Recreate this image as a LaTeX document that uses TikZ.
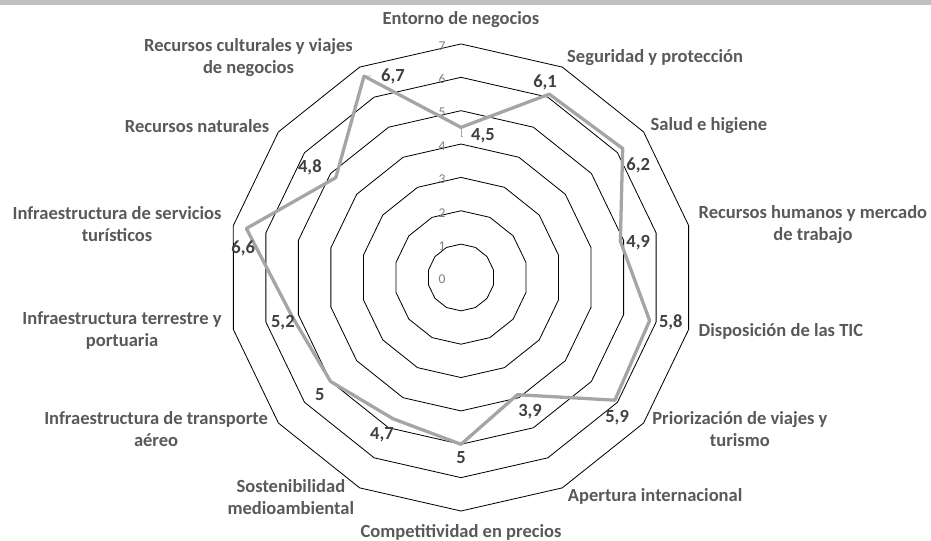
\documentclass[tikz,border=0pt]{standalone}
\usepackage{fontspec}
\setmainfont{Carlito}
\definecolor{catgray}{HTML}{595959}
\definecolor{valgray}{HTML}{404040}
\definecolor{datagray}{HTML}{A5A5A5}
\definecolor{tickgray}{HTML}{7F7F7F}
\definecolor{bandgray}{HTML}{C0C0C0}
\begin{document}
\begin{tikzpicture}[
  cat/.style={text=catgray,font=\bfseries\fontsize{15.8}{18.7}\selectfont,align=center,inner sep=0pt},
  val/.style={text=valgray,font=\bfseries\fontsize{15.8}{18.7}\selectfont,inner sep=0pt},
  tick/.style={text=tickgray,font=\fontsize{11.5}{13}\selectfont,inner sep=0pt},
  leader/.style={datagray,line width=0.6pt}]

\useasboundingbox (-13.819,-7.899) rectangle (14.089,8.318);
%top band
\fill[bandgray] (-13.819,8.168) rectangle (14.089,8.318);

%GRID
% rings 1..7
\foreach \r in {1,...,7}
  \draw[line width=0.7pt] (90:\r) \foreach \k in {1,...,13}{ -- ({90-\k*360/14}:\r) } -- cycle;
% scale numbers
\foreach \r in {0,...,7}
  \node[tick] (t\r) at (-0.57,\r-0.06) {\r};

%DATA
\foreach \v [count=\i from 0] in {4.5,6.1,6.2,4.9,5.8,5.9,3.9,5,4.7,5,5.2,6.6,4.8,6.7}
  \coordinate (p\i) at ({90-\i*360/14}:\v);
\draw[datagray,line width=2.8pt,line join=round] (p0) -- (p1) -- (p2) -- (p3) -- (p4) -- (p5) -- (p6)
  -- (p7) -- (p8) -- (p9) -- (p10) -- (p11) -- (p12) -- (p13) -- cycle;

%VALUES
\node[val] (v0) at (0.66,4.24) {4,5};
\node[val] (v1) at (2.52,5.86) {6,1};
\node[val] (v2) at (5.31,3.37) {6,2};
\node[val] (v3) at (5.31,1.03) {4,9};
\node[val] (v4) at (6.29,-1.36) {5,8};
\node[val] (v5) at (4.68,-4.21) {5,9};
\node[val] (v6) at (2.07,-4.03) {3,9};
\node[val] (v7) at (0,-5.41) {5};
\node[val] (v8) at (-2.37,-4.72) {4,7};
\node[val] (v9) at (-4.23,-3.52) {5};
\node[val] (v10) at (-5.34,-1.36) {5,2};
\node[val] (v11) at (-6.53,0.88) {6,6};
\node[val] (v12) at (-4.53,3.31) {4,8};
\node[val] (v13) at (-2.04,6.04) {6,7};
% leader lines
\draw[leader] (p0) |- ([xshift=-0.25cm]v0.west);
\draw[leader] (p13) -- ([xshift=-0.3cm]v13.west);

%LABELS
\node[cat] (c0) at (0,7.72) {Entorno de negocios};
\node[cat] (c1) at (5.82,6.58) {Seguridad y protección};
\node[cat] (c2) at (7.43,4.54) {Salud e higiene};
\node[cat] (c3) at (10.55,1.60) {Recursos humanos y mercado\\de trabajo};
\node[cat] (c4) at (9.59,-1.63) {Disposición de las TIC};
\node[cat] (c5) at (8.36,-4.54) {Priorización de viajes y\\turismo};
\node[cat] (c6) at (5.82,-6.55) {Apertura internacional};
\node[cat] (c7) at (0,-7.64) {Competitividad en precios};
\node[cat] (c8) at (-5.10,-6.58) {Sostenibilidad\\medioambiental};
\node[cat] (c9) at (-9.14,-4.54) {Infraestructura de transporte\\aéreo};
\node[cat] (c10) at (-10.16,-1.60) {Infraestructura terrestre y\\portuaria};
\node[cat] (c11) at (-10.31,1.60) {Infraestructura de servicios\\turísticos};
\node[cat] (c12) at (-7.91,4.54) {Recursos naturales};
\node[cat] (c13) at (-6.37,6.59) {Recursos culturales y viajes\\de negocios};

\end{tikzpicture}
\end{document}
